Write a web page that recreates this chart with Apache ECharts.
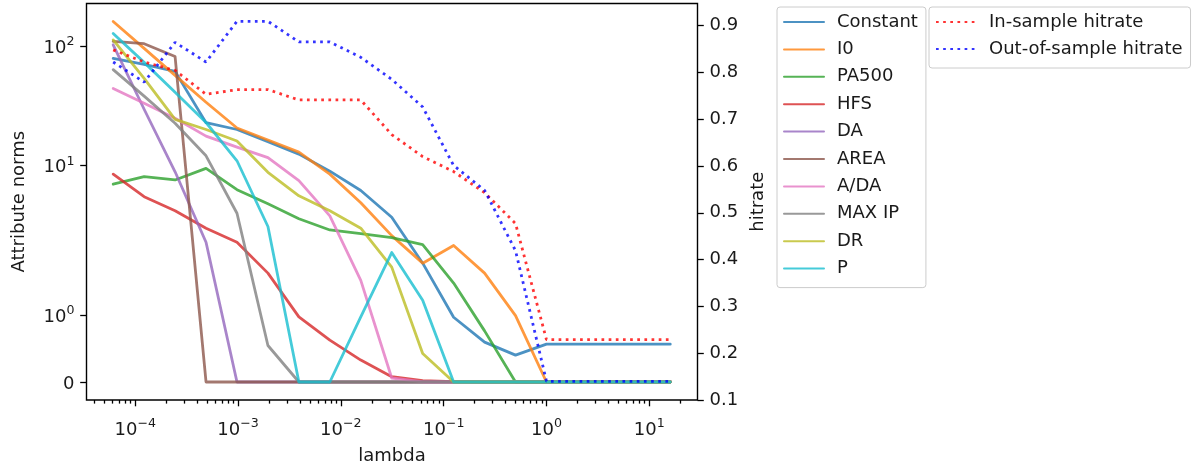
<!DOCTYPE html>
<html>
<head>
<meta charset="utf-8">
<script src="https://cdn.jsdelivr.net/npm/echarts@6/dist/echarts.min.js"></script>
<style>
html,body{margin:0;padding:0;background:#fff;}
#c{width:1196px;height:466px;}
</style>
</head>
<body>
<div id="c"></div>
<script>
// ---------------- data ----------------
// regularisation strengths (x axis, log scale): 2^-14 ... 2^4
const lambdas = [0.00006103515625, 0.0001220703125, 0.000244140625, 0.00048828125,
  0.0009765625, 0.001953125, 0.00390625, 0.0078125, 0.015625, 0.03125, 0.0625,
  0.125, 0.25, 0.5, 1, 2, 4, 8, 16];

const attrNames = ['Constant', 'I0', 'PA500', 'HFS', 'DA', 'AREA', 'A/DA', 'MAX IP', 'DR', 'P'];

const normConstant = [79.1, 70.5, 61.6, 22.9, 20.1, 15.9, 12.5, 9.0, 6.2, 3.7, 1.79, 0.975, 0.60, 0.405, 0.57, 0.57, 0.57, 0.57, 0.57];
const normI0       = [161, 95.9, 57.1, 34.0, 20.7, 16.4, 13.0, 8.5, 4.9, 2.6, 1.79, 2.15, 1.64, 1.0, 0, 0, 0, 0, 0];
const normPA500    = [7.0, 8.1, 7.6, 9.5, 6.3, 4.8, 3.6, 2.9, 2.7, 2.5, 2.19, 1.49, 0.77, 0, 0, 0, 0, 0, 0];
const normHFS      = [8.5, 5.5, 4.2, 3.0, 2.29, 1.64, 0.98, 0.63, 0.33, 0.08, 0.02, 0.005, 0, 0, 0, 0, 0, 0, 0];
const normDA       = [102.8, 29.7, 8.9, 2.29, 0, 0, 0, 0, 0, 0, 0, 0, 0, 0, 0, 0, 0, 0, 0];
const normAREA     = [110, 105, 82, 0, 0, 0, 0, 0, 0, 0, 0, 0, 0, 0, 0, 0, 0, 0, 0];
const normADA      = [44.3, 33.4, 25.0, 17.7, 14.3, 11.7, 7.5, 3.8, 1.53, 0.06, 0, 0, 0, 0, 0, 0, 0, 0, 0];
const normMAXIP    = [63.7, 38.2, 22.7, 12.1, 4.0, 0.55, 0, 0, 0, 0, 0, 0, 0, 0, 0, 0, 0, 0, 0];
const normDR       = [113, 53.9, 24.4, 20.1, 16.1, 8.8, 5.6, 4.2, 3.0, 1.73, 0.43, 0, 0, 0, 0, 0, 0, 0, 0];
const normP        = [128, 73.3, 41.2, 23.0, 11.0, 3.1, 0, 0, 0.98, 1.95, 1.23, 0, 0, 0, 0, 0, 0, 0, 0];

const hitNames = ['In-sample hitrate', 'Out-of-sample hitrate'];
const hitInSample  = [0.848, 0.822, 0.804, 0.753, 0.763, 0.763, 0.741, 0.741, 0.741, 0.667, 0.620, 0.588, 0.543, 0.477, 0.229, 0.229, 0.229, 0.229, 0.229];
const hitOutSample = [0.822, 0.779, 0.864, 0.822, 0.909, 0.909, 0.865, 0.865, 0.832, 0.785, 0.726, 0.601, 0.548, 0.419, 0.140, 0.140, 0.140, 0.140, 0.140];

// tick labels
const xMajorTicks = [1e-4, 1e-3, 1e-2, 1e-1, 1, 10];
const leftTickValues = [0, 1, 10, 100];
const leftTickLabels = ['{b|0}', '{b|10}{s|0}', '{b|10}{s|1}', '{b|10}{s|2}'];
const rightTickValues = [0.1, 0.2, 0.3, 0.4, 0.5, 0.6, 0.7, 0.8, 0.9];

// ---------------- presentation ----------------
const attrColors = ['#1f77b4', '#ff7f0e', '#2ca02c', '#d62728', '#9467bd', '#8c564b', '#e377c2', '#7f7f7f', '#bcbd22', '#17becf'];
const hitColors = ['#ff0000', '#0000ff'];
const FONT = 'DejaVu Sans';
const TXT = '#1a1a1a';
const LW = 2.8;

// symmetric-log transform (linthresh 2, linscale 1, base 10), as used by the left axis
const LINTHRESH = 2, LINSCALE_ADJ = 1 / (1 - 1 / 10);
function symlog(v) {
  const a = Math.abs(v);
  const t = a <= LINTHRESH ? a * LINSCALE_ADJ : LINTHRESH * (LINSCALE_ADJ + Math.log10(a / LINTHRESH));
  return v < 0 ? -t : t;
}

const norms = [normConstant, normI0, normPA500, normHFS, normDA, normAREA, normADA, normMAXIP, normDR, normP];
const hits = [hitInSample, hitOutSample];

// axis extents (matplotlib-like 5% margins)
const X_MIN = Math.pow(10, -4.474), X_MAX = Math.pow(10, 1.469);
const Y_MIN = -0.3017, Y_MAX = 6.3357;

// minor ticks of the log axis: 2..9 x 10^k
const xMinorTicks = [];
for (let e = -5; e <= 1; e++) for (let m = 2; m <= 9; m++) xMinorTicks.push(m * Math.pow(10, e));

const rich = {
  b: {fontFamily: FONT, fontSize: 18, color: TXT, lineHeight: 22, verticalAlign: 'bottom'},
  s: {fontFamily: FONT, fontSize: 12.6, color: TXT, lineHeight: 17, verticalAlign: 'top'}
};
function pow10Label(v) {
  const e = Math.round(Math.log10(v));
  return '{b|10}{s|' + (e < 0 ? '\u2212' + (-e) : String(e)) + '}';
}

const leftTickT = leftTickValues.map(symlog);

const series = [];
attrNames.forEach((n, i) => {
  series.push({
    type: 'line', name: n, xAxisIndex: 0, yAxisIndex: 0,
    data: lambdas.map((x, j) => [x, symlog(norms[i][j])]),
    symbol: 'none', showSymbol: false, silent: true,
    itemStyle: {color: attrColors[i], opacity: 0.8},
    lineStyle: {color: attrColors[i], width: LW, opacity: 0.8, join: 'round', cap: 'round'},
    z: 2
  });
});
hitNames.forEach((n, i) => {
  series.push({
    type: 'line', name: n, xAxisIndex: 0, yAxisIndex: 1,
    data: lambdas.map((x, j) => [x, hits[i][j]]),
    symbol: 'none', showSymbol: false, silent: true,
    itemStyle: {color: hitColors[i], opacity: 0.8},
    lineStyle: {color: hitColors[i], width: LW, opacity: 0.8, type: [2.7, 4.45], cap: 'butt'},
    z: 3
  });
});

const tickLine = {color: '#000', width: 1.3};
const nameStyle = {fontFamily: FONT, fontSize: 18, color: TXT};
const legendBase = {
  orient: 'vertical', top: 7, itemWidth: 40, itemHeight: 14,
  padding: [6, 8, 10, 6], borderColor: '#cccccc', borderWidth: 1, borderRadius: 3, backgroundColor: '#fff',
  itemStyle: {opacity: 0, borderWidth: 0},
  textStyle: {fontFamily: FONT, fontSize: 18, color: TXT, lineHeight: 18, padding: [0, 0, 0, 8]},
  selectedMode: false
};

const option = {
  animation: false,
  backgroundColor: '#fff',
  grid: {left: 86.5, right: 498.5, top: 3.5, bottom: 66, show: true, borderColor: '#000', borderWidth: 1.4,
         backgroundColor: 'transparent', containLabel: false, outerBoundsMode: 'none'},
  xAxis: [{
    type: 'log', logBase: 10, min: X_MIN, max: X_MAX, position: 'bottom',
    axisLine: {show: false, onZero: false}, splitLine: {show: false}, minorSplitLine: {show: false},
    axisTick: {show: true, customValues: xMajorTicks, length: 6.3, lineStyle: tickLine},
    axisLabel: {customValues: xMajorTicks, formatter: v => pow10Label(v), rich: rich, margin: 17},
    name: 'lambda', nameLocation: 'middle', nameGap: 47, nameTextStyle: nameStyle
  }, {
    type: 'log', logBase: 10, min: X_MIN, max: X_MAX, position: 'bottom',
    axisLine: {show: false, onZero: false}, splitLine: {show: false},
    axisTick: {show: true, customValues: xMinorTicks, length: 3.6, lineStyle: tickLine},
    axisLabel: {show: false}
  }],
  yAxis: [{
    type: 'value', min: Y_MIN, max: Y_MAX, position: 'left',
    axisLine: {show: false, onZero: false}, splitLine: {show: false},
    axisTick: {show: true, customValues: leftTickT, length: 6.3, lineStyle: tickLine},
    axisLabel: {
      customValues: leftTickT, margin: 12, rich: rich,
      fontFamily: FONT, fontSize: 18, color: TXT,
      formatter: function (val) {
        let best = 0;
        for (let i = 1; i < leftTickT.length; i++) {
          if (Math.abs(leftTickT[i] - val) < Math.abs(leftTickT[best] - val)) best = i;
        }
        return leftTickLabels[best];
      }
    },
    name: 'Attribute norms', nameLocation: 'middle', nameRotate: 90, nameGap: 58, nameTextStyle: nameStyle
  }, {
    type: 'value', min: 0.1, max: 0.947, position: 'right',
    axisLine: {show: false, onZero: false}, splitLine: {show: false},
    axisTick: {show: true, customValues: rightTickValues, length: 6.3, lineStyle: tickLine},
    axisLabel: {customValues: rightTickValues, margin: 12, fontFamily: FONT, fontSize: 18, color: TXT,
                formatter: v => v.toFixed(1)},
    name: 'hitrate', nameLocation: 'middle', nameRotate: 90, nameGap: 45, nameTextStyle: nameStyle
  }],
  legend: [
    Object.assign({}, legendBase, {data: attrNames, left: 777, itemGap: 9.4}),
    Object.assign({}, legendBase, {data: hitNames, left: 929, itemGap: 9})
  ],
  series: series
};

const chart = echarts.init(document.getElementById('c'), null, {renderer: 'canvas'});
chart.setOption(option);
</script>
</body>
</html>
